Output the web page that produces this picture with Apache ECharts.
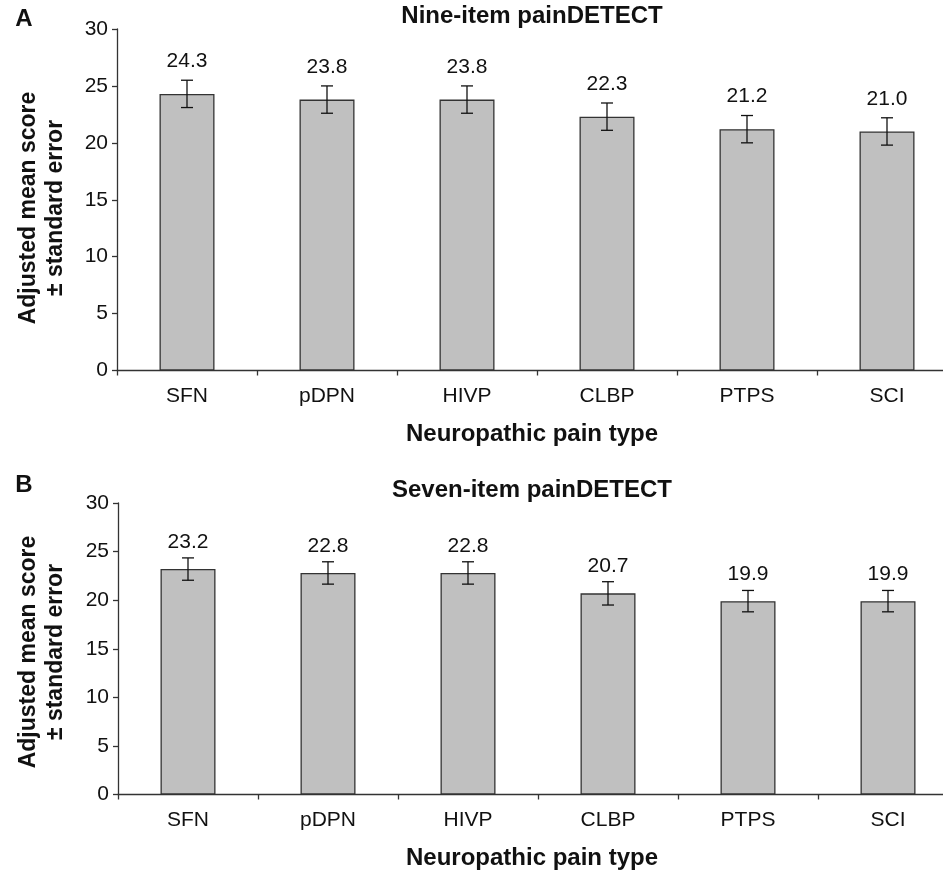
<!DOCTYPE html>
<html>
<head>
<meta charset="utf-8">
<script src="https://cdn.jsdelivr.net/npm/echarts@6/dist/echarts.min.js"></script>
<style>
html,body{margin:0;padding:0;background:#fff;overflow:hidden;width:943px;height:871px;}
#chart{width:960px;height:871px;}
</style>
</head>
<body>
<div id="chart"></div>
<script>
const categories = ['SFN', 'pDPN', 'HIVP', 'CLBP', 'PTPS', 'SCI'];
const nineItemMeans = [24.3, 23.8, 23.8, 22.3, 21.2, 21.0];
const nineItemSE = [1.2, 1.2, 1.2, 1.2, 1.2, 1.2];
const sevenItemMeans = [23.2, 22.8, 22.8, 20.7, 19.9, 19.9];
const sevenItemSE = [1.15, 1.15, 1.15, 1.2, 1.1, 1.1];
const yTicks = [0, 5, 10, 15, 20, 25, 30];
const titleA = 'Nine-item painDETECT';
const titleB = 'Seven-item painDETECT';
const xName = 'Neuropathic pain type';
const yName = 'Adjusted mean score\n± standard error';

const FONT = '"Liberation Sans", Arial, sans-serif';
const chart = echarts.init(document.getElementById('chart'), null, {renderer: 'canvas', width: 960, height: 871});

function errData(means, se) {
  return means.map((m, i) => [i, m - se[i], m + se[i], m]);
}
function makeRenderErr(labelGap) {
  return function (params, api) {
    const x = api.value(0);
    const lo = api.coord([x, api.value(1)]);
    const hi = api.coord([x, api.value(2)]);
    const hw = 6;
    const style = {stroke: '#111', lineWidth: 1.3};
    return {
      type: 'group',
      children: [
        {type: 'line', shape: {x1: lo[0], y1: lo[1], x2: hi[0], y2: hi[1]}, style},
        {type: 'line', shape: {x1: hi[0] - hw, y1: hi[1], x2: hi[0] + hw, y2: hi[1]}, style},
        {type: 'line', shape: {x1: lo[0] - hw, y1: lo[1], x2: lo[0] + hw, y2: lo[1]}, style},
        {type: 'text', x: hi[0], y: hi[1] - labelGap,
          style: {text: api.value(3).toFixed(1), fill: '#111', font: '21px ' + FONT,
            align: 'center', verticalAlign: 'middle'}}
      ]
    };
  };
}

function xAxisCfg(gi) {
  return {
    type: 'category', gridIndex: gi, data: categories,
    boundaryGap: true,
    axisLine: {lineStyle: {color: '#333', width: 1.3}},
    axisTick: {show: true, length: 5, inside: false, alignWithLabel: false, lineStyle: {color: '#333', width: 1.3}},
    axisLabel: {color: '#111', fontFamily: FONT, fontSize: 21, margin: 15},
    splitLine: {show: false}
  };
}
function yAxisCfg(gi) {
  return {
    type: 'value', gridIndex: gi, min: 0, max: 30, interval: 5,
    axisLine: {show: true, lineStyle: {color: '#333', width: 1.3}},
    axisTick: {show: true, length: 5, lineStyle: {color: '#333', width: 1.3}},
    axisLabel: {color: '#111', fontFamily: FONT, fontSize: 21, margin: 9,
      formatter: v => yTicks.includes(v) ? String(v) : ''},
    splitLine: {show: false}
  };
}
function barSeries(gi, data) {
  return {
    type: 'bar', xAxisIndex: gi, yAxisIndex: gi, data: data, barWidth: 55,
    itemStyle: {color: '#c0c0c0', borderColor: '#333', borderWidth: 1.3},
    emphasis: {disabled: true}, animation: false
  };
}
function errSeries(gi, means, se, gap) {
  return {
    type: 'custom', xAxisIndex: gi, yAxisIndex: gi, data: errData(means, se),
    renderItem: makeRenderErr(gap), z: 10, animation: false,
    encode: {x: 0, y: [1, 2]}
  };
}
function txt(text, x, y, size, extra) {
  return Object.assign({type: 'text', x: x, y: y,
    style: {text: text, font: 'bold ' + size + 'px ' + FONT, fill: '#111', align: 'center',
      verticalAlign: 'middle', lineHeight: 27}}, extra || {});
}

chart.setOption({
  backgroundColor: '#fff',
  animation: false,
  graphic: [
    txt('A', 24, 19, 24),
    txt('B', 24, 485, 24),
    txt(titleA, 532, 16, 24),
    txt(titleB, 532, 490, 24),
    txt(xName, 532, 434, 24),
    txt(xName, 532, 858, 24),
    txt(yName, 42, 208, 23, {rotation: Math.PI / 2}),
    txt(yName, 42, 652, 23, {rotation: Math.PI / 2})
  ],
  grid: [
    {left: 117, right: 3, top: 29, height: 341.5},
    {left: 118, right: 2, top: 503, height: 291.5}
  ],
  xAxis: [xAxisCfg(0), xAxisCfg(1)],
  yAxis: [yAxisCfg(0), yAxisCfg(1)],
  series: [
    barSeries(0, nineItemMeans),
    errSeries(0, nineItemMeans, nineItemSE, 19),
    barSeries(1, sevenItemMeans),
    errSeries(1, sevenItemMeans, sevenItemSE, 16)
  ]
});
</script>
</body>
</html>
